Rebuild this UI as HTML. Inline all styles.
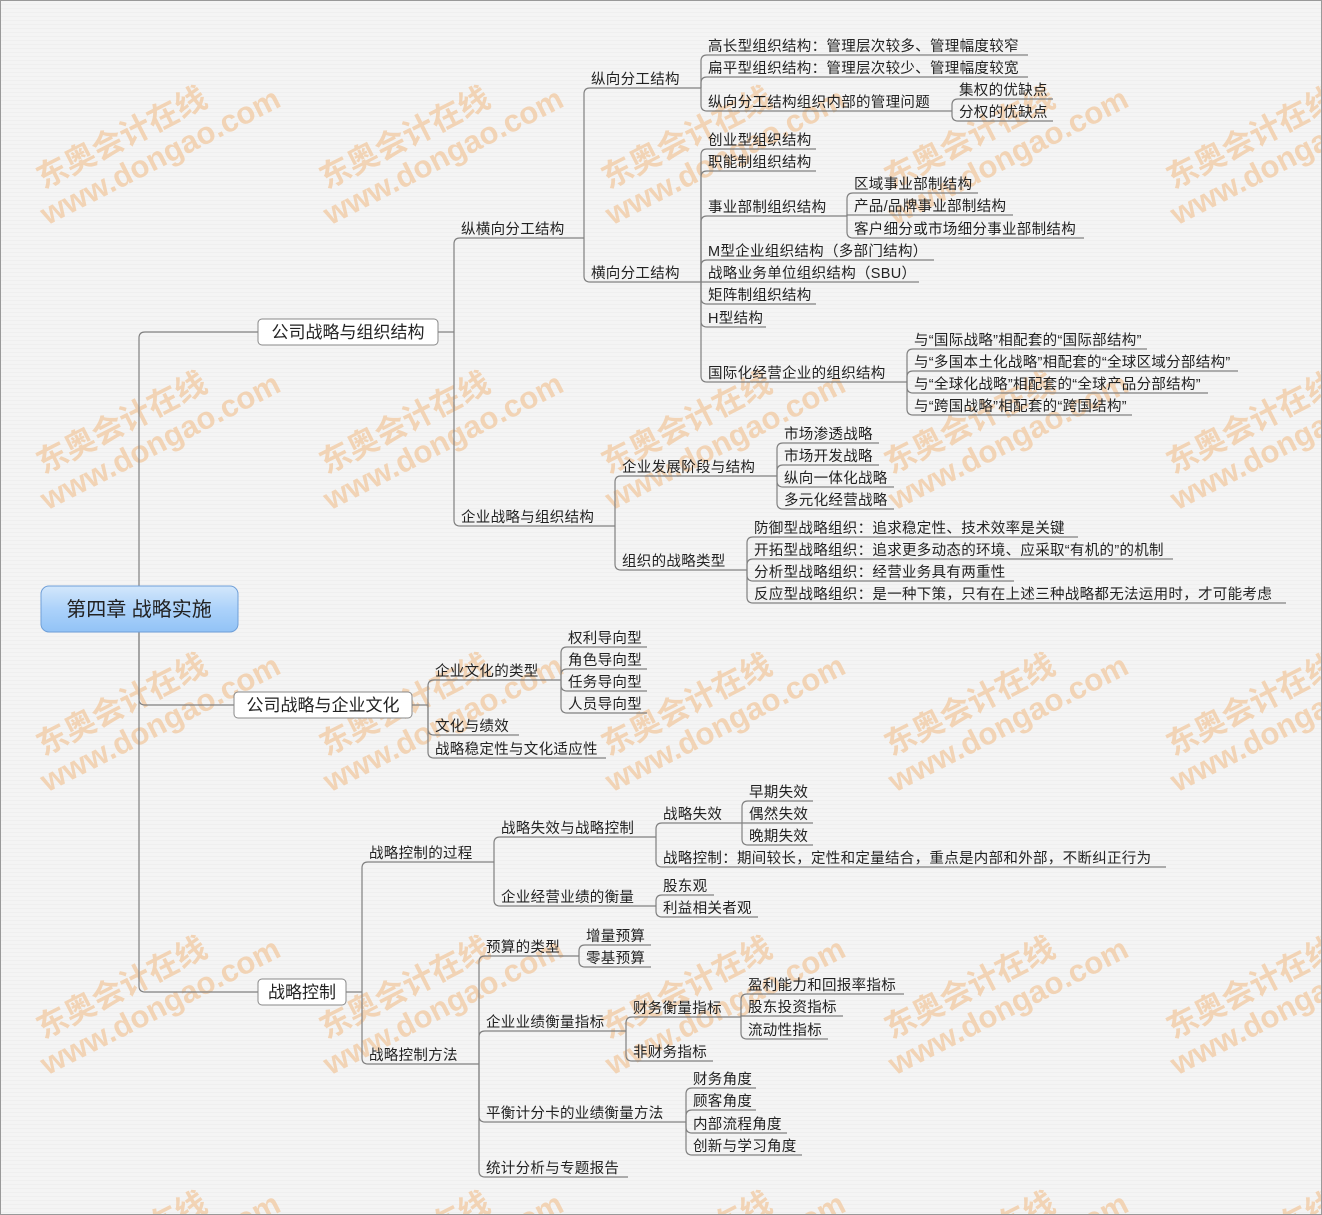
<!DOCTYPE html>
<html><head><meta charset="utf-8">
<style>
html,body{margin:0;padding:0;overflow:hidden;}
body{width:1322px;height:1215px;background:#f3f3f3;}
#wrap{position:relative;width:1320px;height:1213px;overflow:hidden;border:1px solid #999;background:repeating-linear-gradient(180deg,#f4f4f4 0,#f4f4f4 3px,#efefef 3px,#efefef 4px);}
svg{position:absolute;left:0;top:0;display:block;}
text{font-family:"Liberation Sans","Noto Sans CJK SC",sans-serif;}
</style></head><body>
<div id="wrap">
<svg id="s" width="1320" height="1213" xmlns="http://www.w3.org/2000/svg"></svg>
</div>
<script>
var svg=document.getElementById('s');var NS='http://www.w3.org/2000/svg';
function el(t,a,txt){var e=document.createElementNS(NS,t);for(var k in a)e.setAttribute(k,a[k]);if(txt!=null)e.textContent=txt;svg.appendChild(e);return e;}
var wx=[145,428,710,993,1275],wy=[145,430,712,995,1250];
wy.forEach(function(y){wx.forEach(function(x){
var g=document.createElementNS(NS,'g');g.setAttribute('transform','translate('+x+','+y+') rotate(-27)');g.setAttribute('opacity','0.65');
var t1=document.createElementNS(NS,'text');t1.setAttribute('x',-18);t1.setAttribute('y',-8);t1.setAttribute('font-size','31');t1.setAttribute('font-weight','bold');t1.setAttribute('fill','#f2c495');t1.setAttribute('text-anchor','middle');t1.textContent='东奥会计在线';
var t2=document.createElementNS(NS,'text');t2.setAttribute('x',8);t2.setAttribute('y',26);t2.setAttribute('font-size','31');t2.setAttribute('font-weight','bold');t2.setAttribute('fill','#f2c495');t2.setAttribute('text-anchor','middle');t2.textContent='www.dongao.com';
g.appendChild(t1);g.appendChild(t2);svg.appendChild(g);});});
var LC='#808080',R=6;
function conn(x,py,cy,e){var d;
 if(Math.abs(cy-py)<R){d='M'+x+' '+py+' L'+x+' '+cy+' L'+e+' '+cy;}
 else{var sg=cy>py?1:-1;d='M'+x+' '+py+' L'+x+' '+(cy-sg*R)+' Q'+x+' '+cy+' '+(x+R)+' '+cy+' L'+e+' '+cy;}
 el('path',{d:d,fill:'none',stroke:LC,'stroke-width':1.2});}
function draw(s,py,list){list.forEach(function(n){var c=n[1],u=c+9;conn(s,py,u,n[2]);
 el('text',{x:s+7,y:c+5,'font-size':'14.5',fill:'#222','letter-spacing':'0.3'},n[0]);
 if(n[3])draw(n[2],u,n[3]);});}
var root=el('rect',{x:40,y:585,width:197,height:46,rx:8,fill:'url(#rg)',stroke:'#6f9fd8','stroke-width':1});
var defs=document.createElementNS(NS,'defs');defs.innerHTML='<linearGradient id="rg" x1="0" y1="0" x2="0" y2="1"><stop offset="0" stop-color="#d3e7fb"/><stop offset="0.5" stop-color="#acd2fa"/><stop offset="1" stop-color="#92c3f6"/></linearGradient>';svg.insertBefore(defs,svg.firstChild);
function box(t,x1,x2,c,s,kids){conn(138,608,c,x1);
 el('rect',{x:x1,y:c-13,width:x2-x1,height:26,rx:4,fill:'#fff',stroke:'#888','stroke-width':1});
 el('text',{x:(x1+x2)/2,y:c+6,'font-size':'17',fill:'#222','text-anchor':'middle'},t);
 el('path',{d:'M'+x2+' '+c+' L'+s+' '+c,stroke:LC,'stroke-width':1.2,fill:'none'});
 draw(s,c,kids);}
box('公司战略与组织结构',257,437,331,453,[
 ['纵横向分工结构',228,583,[
  ['纵向分工结构',78,700,[
   ['高长型组织结构：管理层次较多、管理幅度较窄',45,1027],
   ['扁平型组织结构：管理层次较少、管理幅度较宽',67,1027],
   ['纵向分工结构组织内部的管理问题',101,951,[
     ['集权的优缺点',89,1052],['分权的优缺点',111,1052]]]]],
  ['横向分工结构',272,700,[
   ['创业型组织结构',139,815],['职能制组织结构',161,815],
   ['事业部制组织结构',206,846,[
     ['区域事业部制结构',183,977],['产品/品牌事业部制结构',205,1012],['客户细分或市场细分事业部制结构',228,1083]]],
   ['M型企业组织结构（多部门结构）',250,933],
   ['战略业务单位组织结构（SBU）',272,918],
   ['矩阵制组织结构',294,815],['H型结构',317,765],
   ['国际化经营企业的组织结构',372,906,[
     ['与“国际战略”相配套的“国际部结构”',339,1146],
     ['与“多国本土化战略”相配套的“全球区域分部结构”',361,1237],
     ['与“全球化战略”相配套的“全球产品分部结构”',383,1207],
     ['与“跨国战略”相配套的“跨国结构”',405,1131]]]]]]],
 ['企业战略与组织结构',516,614,[
  ['企业发展阶段与结构',466,776,[
   ['市场渗透战略',433,878],['市场开发战略',455,878],['纵向一体化战略',477,893],['多元化经营战略',499,893]]],
  ['组织的战略类型',560,746,[
   ['防御型战略组织：追求稳定性、技术效率是关键',527,1077],
   ['开拓型战略组织：追求更多动态的环境、应采取“有机的”的机制',549,1172],
   ['分析型战略组织：经营业务具有两重性',571,1013],
   ['反应型战略组织：是一种下策，只有在上述三种战略都无法运用时，才可能考虑',593,1285]]]]]]);
box('公司战略与企业文化',233,411,704,427,[
 ['企业文化的类型',670,560,[
  ['权利导向型',637,646],['角色导向型',659,646],['任务导向型',681,646],['人员导向型',703,646]]],
 ['文化与绩效',725,518],
 ['战略稳定性与文化适应性',748,605]]);
box('战略控制',257,345,991,361,[
 ['战略控制的过程',852,493,[
  ['战略失效与战略控制',827,655,[
   ['战略失效',813,741,[['早期失效',791,812],['偶然失效',813,812],['晚期失效',835,812]]],
   ['战略控制：期间较长，定性和定量结合，重点是内部和外部，不断纠正行为',857,1165]]],
  ['企业经营业绩的衡量',896,655,[['股东观',885,713],['利益相关者观',907,757]]]]],
 ['战略控制方法',1054,478,[
  ['预算的类型',946,578,[['增量预算',935,650],['零基预算',957,650]]],
  ['企业业绩衡量指标',1021,625,[
   ['财务衡量指标',1007,740,[['盈利能力和回报率指标',984,903],['股东投资指标',1006,842],['流动性指标',1029,827]]],
   ['非财务指标',1051,712]]],
  ['平衡计分卡的业绩衡量方法',1112,685,[['财务角度',1078,755],['顾客角度',1100,755],['内部流程角度',1123,786],['创新与学习角度',1145,801]]],
  ['统计分析与专题报告',1167,627]]]]);
svg.appendChild(root);
el('text',{x:138,y:615,'font-size':'20',fill:'#222','text-anchor':'middle'},'第四章 战略实施');
</script>
</body></html>
